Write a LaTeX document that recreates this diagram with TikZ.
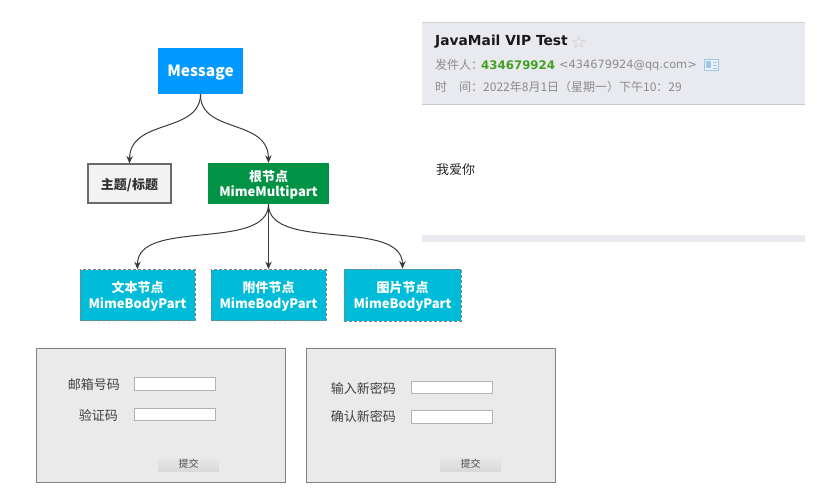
\documentclass[tikz,border=0pt]{standalone}
\usepackage{fontspec}
\setmainfont{Noto Sans CJK SC}
\newfontfamily\vfont{DejaVu Sans}
\usetikzlibrary{arrows.meta,calc}
\definecolor{msgblue}{HTML}{0099FF}
\definecolor{rootgreen}{HTML}{009245}
\definecolor{leafcyan}{HTML}{00BCD8}
\definecolor{panelgray}{HTML}{EAEAEA}
\definecolor{headbg}{HTML}{E9EAF0}
\definecolor{linkc}{HTML}{3A3A3A}
\definecolor{mutedc}{HTML}{8C8C8C}
\definecolor{sendgreen}{HTML}{43A01F}
\definecolor{iconc}{HTML}{9CC8E6}
\newcommand\dn[1]{\raisebox{-2.2pt}[\height][\depth]{\begin{tabular}{@{}c@{}}#1\end{tabular}}}
\tikzset{
  boxat/.style={inner sep=0pt,align=center,font=\fontsize{13}{15}\selectfont\bfseries,text=white},
  conn/.style={draw=linkc,line width=1pt,-{Stealth[length=7.5pt,width=6.5pt]}},
  leaf/.style={boxat,fill=leafcyan,draw=black!50,dash pattern=on 3pt off 2pt,line width=0.8pt,minimum width=115pt,minimum height=51pt},
  panel/.style={draw=black!50,fill=panelgray,line width=0.7pt,inner sep=0pt},
  field/.style={draw=black!30,fill=white,line width=0.6pt,minimum width=81.5pt,minimum height=12.5pt,inner sep=0pt},
  flabel/.style={font=\fontsize{13}{15}\selectfont,text=black!75,inner sep=0pt},
  btn/.style={top color=panelgray,bottom color=black!15,minimum width=61pt,minimum height=15pt,inner sep=0pt,font=\fontsize{10}{12}\selectfont,text=black!70},
  headtxt/.style={anchor=west,inner sep=0pt,text=mutedc,font=\fontsize{12}{14}\selectfont},
}
\begin{document}
\begin{tikzpicture}[x=1pt,y=-1pt]
\useasboundingbox (0,0) rectangle (824,495);
% mind map
\node[boxat,fill=msgblue,minimum width=85pt,minimum height=46pt,font=\fontsize{15.5}{18}\selectfont\bfseries] (msg) at (200.5,71) {\dn{Message}};
\node[boxat,fill=black!5,draw=black!58,line width=1.2pt,text=black!80,minimum width=83pt,minimum height=39pt,font=\fontsize{13}{15}\selectfont\bfseries] (topic) at (129.5,183.5) {\dn{主题/标题}};
\node[boxat,fill=rootgreen,minimum width=121pt,minimum height=41pt] (root) at (268.5,183.5) {\dn{根节点\\MimeMultipart}};
\node[leaf] (text) at (137.5,295) {\dn{文本节点\\MimeBodyPart}};
\node[leaf] (att) at (268.5,295) {\dn{附件节点\\MimeBodyPart}};
\node[leaf,minimum width=117pt,minimum height=52pt] (img) at (402.5,295) {\dn{图片节点\\MimeBodyPart}};
\draw[conn] (msg.south) .. controls (200,134) and (130,118) .. (topic.north);
\draw[conn] (msg.south) .. controls (200,134) and (268,118) .. (root.north);
\draw[conn] (root.south) .. controls (268,252) and (137,218) .. (text.north);
\draw[conn] (root.south) -- (att.north);
\draw[conn] (root.south) .. controls (268,252) and (402,218) .. (img.north);
% mail header
\fill[headbg] (422,22) rectangle (805,104);
\draw[black!18,line width=0.8pt] (422,22) -- (805,22);
\draw[black!22,line width=0.8pt] (422,104) -- (805,104);
\fill[headbg] (422,235) rectangle (805,242);
\node[anchor=west,inner sep=0pt,font=\vfont\fontsize{13.8}{15}\selectfont\bfseries,text=black!90] (subj) at (435,42) {JavaMail VIP Test};
\node[anchor=center,inner sep=0pt,font=\vfont\fontsize{18}{18}\selectfont,text=black!22] (star) at (579,42) {☆};
\node[headtxt] (from) at (435,65) {发件人：};
\node[headtxt,font=\vfont\fontsize{11.8}{14}\selectfont\bfseries,text=sendgreen] (sender) at (481,65) {434679924};
\node[headtxt,font=\vfont\fontsize{11.35}{14}\selectfont] (addr) at (559,65) {<434679924@qq.com>};
\draw[draw=iconc,fill=blue!6,line width=0.7pt] (704,59) rectangle (718,70);
\fill[iconc] (706,61) rectangle (711,68);
\draw[iconc,line width=0.6pt] (712.5,62) -- (716.5,62) (712.5,65) -- (716.5,65) (712.5,68) -- (716.5,68);
\node[headtxt] (time) at (435,87) {时\hspace{1em}间：2022年8月1日（星期一）下午10：29};
\node[anchor=west,inner sep=0pt,font=\fontsize{13}{15}\selectfont,text=black!85] (body) at (436,169.5) {我爱你};
% left form
\node[panel,minimum width=249.5pt,minimum height=134.5pt] (p1) at (161,415.5) {};
\node[field] (f1) at (175,384) {};
\node[field] (f2) at (175,414.5) {};
\node[flabel,anchor=east] (l1) at (120,385) {邮箱号码};
\node[flabel,anchor=east] (l2) at (118,415) {验证码};
\node[btn] (b1) at (188.5,463.5) {提交};
% right form
\node[panel,minimum width=249.5pt,minimum height=134.5pt] (p2) at (431,415.5) {};
\node[field] (f3) at (452,387.5) {};
\node[field] (f4) at (452,417) {};
\node[flabel,anchor=east] (l3) at (396,388) {输入新密码};
\node[flabel,anchor=east] (l4) at (396,416) {确认新密码};
\node[btn] (b2) at (470.5,463.5) {提交};
\end{tikzpicture}
\end{document}
